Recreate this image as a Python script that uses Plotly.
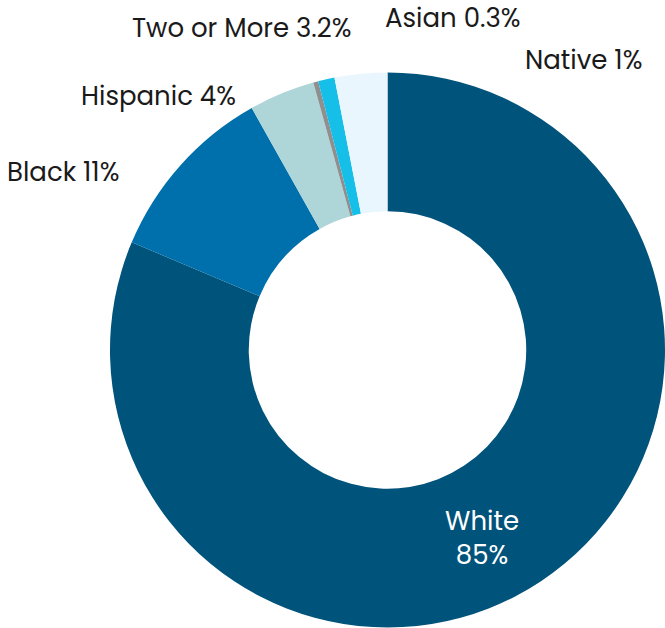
import plotly.graph_objects as go

groups = ["White", "Black", "Hispanic", "Asian", "Native", "Two or More"]
shares = [85, 11, 4, 0.3, 1, 3.2]
colors = ["#00537A", "#0070AC", "#AED5D8", "#8F8F8F", "#16BFE8", "#EAF6FD"]

FONT = "Poppins, Inter, sans-serif"

# label positions for each group, in paper coordinates
label_pos = {
    "White": (0.725, 0.143),
    "Black": (0.095, 0.726),
    "Hispanic": (0.238, 0.847),
    "Two or More": (0.364, 0.955),
    "Asian": (0.681, 0.971),
    "Native": (0.878, 0.904),
}

fig = go.Figure(
    go.Pie(
        labels=groups,
        values=shares,
        textinfo="none",
        marker=dict(colors=colors, line=dict(width=0)),
        hole=0.5,
        sort=False,
        direction="clockwise",
        rotation=0,
        domain=dict(x=[0.1654, 1.0], y=[0.0, 0.8854]),
        showlegend=False,
    )
)

for g, v in zip(groups, shares):
    x, y = label_pos[g]
    inside = g == "White"
    fig.add_annotation(
        x=x, y=y, xref="paper", yref="paper",
        text=f"{g}<br>{v:g}%" if inside else f"{g} {v:g}%",
        showarrow=False,
        xanchor="center", yanchor="middle",
        font=dict(family=FONT, size=26, color="white" if inside else "#1a1a1a"),
    )

fig.update_layout(
    width=665, height=628,
    margin=dict(l=0, r=0, t=0, b=0),
    paper_bgcolor="white", plot_bgcolor="white",
)

fig.write_html("out.html")
